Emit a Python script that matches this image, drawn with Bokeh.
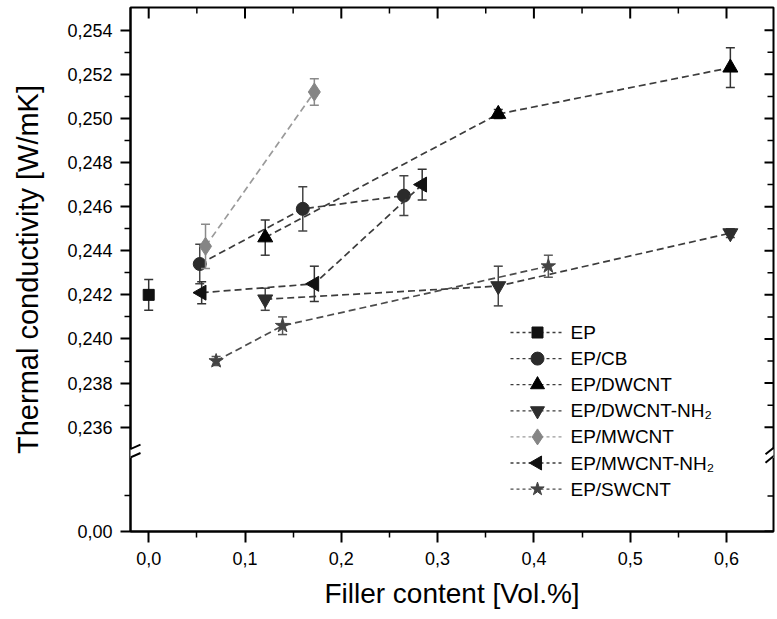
import math
from bokeh.plotting import figure
from bokeh.models import FixedTicker, Range1d, Arrow
from bokeh.core.properties import value
from bokeh.embed import file_html
from bokeh.resources import INLINE

# ---------------- data ----------------
series_names = ["EP", "EP/CB", "EP/DWCNT", "EP/DWCNT-NH\u2082", "EP/MWCNT", "EP/MWCNT-NH\u2082", "EP/SWCNT"]

ep_x = [0.0]
ep_y = [0.2420]
ep_err = [0.0007]

cb_x = [0.053, 0.160, 0.265]
cb_y = [0.2434, 0.2459, 0.2465]
cb_err = [0.0009, 0.0010, 0.0009]

dw_x = [0.121, 0.363, 0.604]
dw_y = [0.2446, 0.2502, 0.2523]
dw_err = [0.0008, 0.0002, 0.0009]

dwn_x = [0.121, 0.363, 0.604]
dwn_y = [0.2418, 0.2424, 0.2448]
dwn_err = [0.0005, 0.0009, 0.0002]

mw_x = [0.059, 0.172]
mw_y = [0.2442, 0.2512]
mw_err = [0.0010, 0.0006]

mwn_x = [0.055, 0.172, 0.284]
mwn_y = [0.2421, 0.2425, 0.2470]
mwn_err = [0.0005, 0.0008, 0.0007]

sw_x = [0.070, 0.139, 0.415]
sw_y = [0.2390, 0.2406, 0.2433]
sw_err = [0.0002, 0.0004, 0.0005]

x_ticks = [0.0, 0.1, 0.2, 0.3, 0.4, 0.5, 0.6]
x_tick_labels = ["0,0", "0,1", "0,2", "0,3", "0,4", "0,5", "0,6"]
x_minor = [0.05, 0.15, 0.25, 0.35, 0.45, 0.55]

y_ticks = [0.236, 0.238, 0.240, 0.242, 0.244, 0.246, 0.248, 0.250, 0.252, 0.254]
y_tick_labels = ["0,236", "0,238", "0,240", "0,242", "0,244", "0,246", "0,248", "0,250", "0,252", "0,254"]
y_minor = [0.237, 0.239, 0.241, 0.243, 0.245, 0.247, 0.249, 0.251, 0.253]

x_title = "Filler content [Vol.%]"
y_title = "Thermal conductivity [W/mK]"

# broken axis: lower segment (0,00) drawn below the break
ZERO_POS = 0.23127      # where "0,00" sits on the display scale
ZERO_MINOR = 0.23288    # minor tick of the lower segment
ZERO_LABEL = "0,00"
BREAK_Y = 0.2348

FONT = "Liberation Sans"

# ---------------- layout ----------------
W, H = 775, 619
BL, BR, BT, BB = 130, 2, 7, 88
X0, X1 = -0.0189, 0.6488
Y0, Y1 = ZERO_POS, 0.25503
FW, FH = W - BL - BR, H - BT - BB
XS = FW / (X1 - X0)
YS = FH / (Y1 - Y0)


def px2x(px):
    return X0 + (px - BL) / XS


def py2y(py):
    return Y1 - (py - BT) / YS


p = figure(width=W, height=H, output_backend="svg", toolbar_location=None,
           x_range=Range1d(X0, X1), y_range=Range1d(Y0, Y1),
           min_border_left=BL, min_border_right=BR, min_border_top=BT, min_border_bottom=BB)
p.grid.visible = False
p.outline_line_color = "black"
p.outline_line_width = 2
p.background_fill_color = "white"
p.border_fill_color = "white"

# axes
xt = FixedTicker(ticks=x_ticks, minor_ticks=x_minor)
yt = FixedTicker(ticks=[ZERO_POS] + y_ticks, minor_ticks=[ZERO_MINOR] + y_minor)
xo = {t: l for t, l in zip(x_ticks, x_tick_labels)}
yo = {t: l for t, l in zip(y_ticks, y_tick_labels)}
yo[ZERO_POS] = ZERO_LABEL

xa = p.xaxis[0]
xa.ticker = xt
xa.major_label_overrides = xo
xa.axis_label = x_title
ya = p.yaxis[0]
ya.ticker = yt
ya.major_label_overrides = yo
ya.axis_label = y_title

for ax, tout, mout, std, lstd, lsz in [(xa, 11, 6, 9, 10, "28px"), (ya, 10, 6, 8, 20, "29px")]:
    ax.major_tick_out = tout
    ax.major_tick_in = 0
    ax.minor_tick_out = mout
    ax.minor_tick_in = 0
    ax.axis_line_width = 2
    ax.major_tick_line_width = 2
    ax.minor_tick_line_width = 1.5
    ax.major_label_text_font = FONT
    ax.major_label_text_font_size = "18px"
    ax.major_label_text_color = "black"
    ax.major_label_standoff = std
    ax.axis_label_text_font = FONT
    ax.axis_label_text_font_size = lsz
    ax.axis_label_text_font_style = "normal"
    ax.axis_label_text_color = "black"
    ax.axis_label_standoff = lstd

# inward ticks on top and right edges (markers centred on the edge, clipped by the frame)
p.scatter(x_ticks, [Y1] * len(x_ticks), marker="dash", angle=math.pi / 2, size=22,
          line_color="black", line_width=2)
p.scatter(x_minor, [Y1] * len(x_minor), marker="dash", angle=math.pi / 2, size=12,
          line_color="black", line_width=1.5)
p.scatter([X1] * (len(y_ticks) + 1), [ZERO_POS] + y_ticks, marker="dash", size=18,
          line_color="black", line_width=2)
p.scatter([X1] * (len(y_minor) + 1), [ZERO_MINOR] + y_minor, marker="dash", size=12,
          line_color="black", line_width=1.5)

# series
specs = [
    (ep_x, ep_y, ep_err, "square", 11, "#111111", "#3c3c3c", "#333333", 0),
    (cb_x, cb_y, cb_err, "circle", 13, "#2b2b2b", "#3c3c3c", "#444444", 0),
    (dw_x, dw_y, dw_err, "triangle", 15, "#000000", "#3c3c3c", "#333333", 0),
    (dwn_x, dwn_y, dwn_err, "inverted_triangle", 15, "#2e2e2e", "#3c3c3c", "#444444", 0),
    (mw_x, mw_y, mw_err, "diamond", 18, "#858585", "#9a9a9a", "#8a8a8a", 0),
    (mwn_x, mwn_y, mwn_err, "triangle", 15, "#111111", "#3c3c3c", "#333333", math.pi / 2),
    (sw_x, sw_y, sw_err, "star", 15, "#444444", "#4c4c4c", "#555555", 0),
]

# legend layout (pixels in the figure)
LEG_LINE = (510, 563)
LEG_MARK = 537
LEG_TEXT = 570
LEG_ROW0 = 332
LEG_DY = 26.1
leg_size = [11, 13, 14, 14, 16, 14, 14]

for i, (name, (xs, ys, es, mk, sz, mc, lc, ec, ang)) in enumerate(zip(series_names, specs)):
    p.line(xs, ys, line_color=lc, line_width=1.7, line_dash="7 4")
    lo = [y - e for y, e in zip(ys, es)]
    hi = [y + e for y, e in zip(ys, es)]
    p.segment(x0=xs, y0=lo, x1=xs, y1=hi, line_color=ec, line_width=1.5)
    p.scatter(xs, lo, marker="dash", size=9, line_color=ec, line_width=1.5)
    p.scatter(xs, hi, marker="dash", size=9, line_color=ec, line_width=1.5)
    p.scatter(xs, ys, marker=mk, size=sz, fill_color=mc, line_color=mc, angle=ang)

    # legend row
    ly = py2y(LEG_ROW0 + i * LEG_DY)
    p.line([px2x(LEG_LINE[0]), px2x(LEG_LINE[1])], [ly, ly], line_color=lc, line_width=1.3,
           line_dash="3 3")
    p.scatter([px2x(LEG_MARK)], [ly], marker=mk, size=leg_size[i], fill_color=mc, line_color=mc,
              angle=ang)
    p.text([px2x(LEG_TEXT)], [ly], text=[name], text_font=value(FONT), text_font_size="19px",
           text_baseline="middle", text_align="left", text_color="black")

# axis break marks
for xc, dxl, dxr in [(X0, -12, 10), (X1, -8, 4)]:
    p.add_layout(Arrow(end=None, x_start=xc, y_start=BREAK_Y - 0.00020, x_end=xc,
                       y_end=BREAK_Y + 0.00020, line_color="white", line_width=5))
    for off in (0.00019, -0.00019):
        yc = BREAK_Y + off
        p.add_layout(Arrow(end=None, x_start=xc + dxl / XS, y_start=yc - 0.00022,
                           x_end=xc + dxr / XS, y_end=yc + 0.00022, line_color="black",
                           line_width=2))

open("out.html", "w").write(file_html(p, INLINE))
